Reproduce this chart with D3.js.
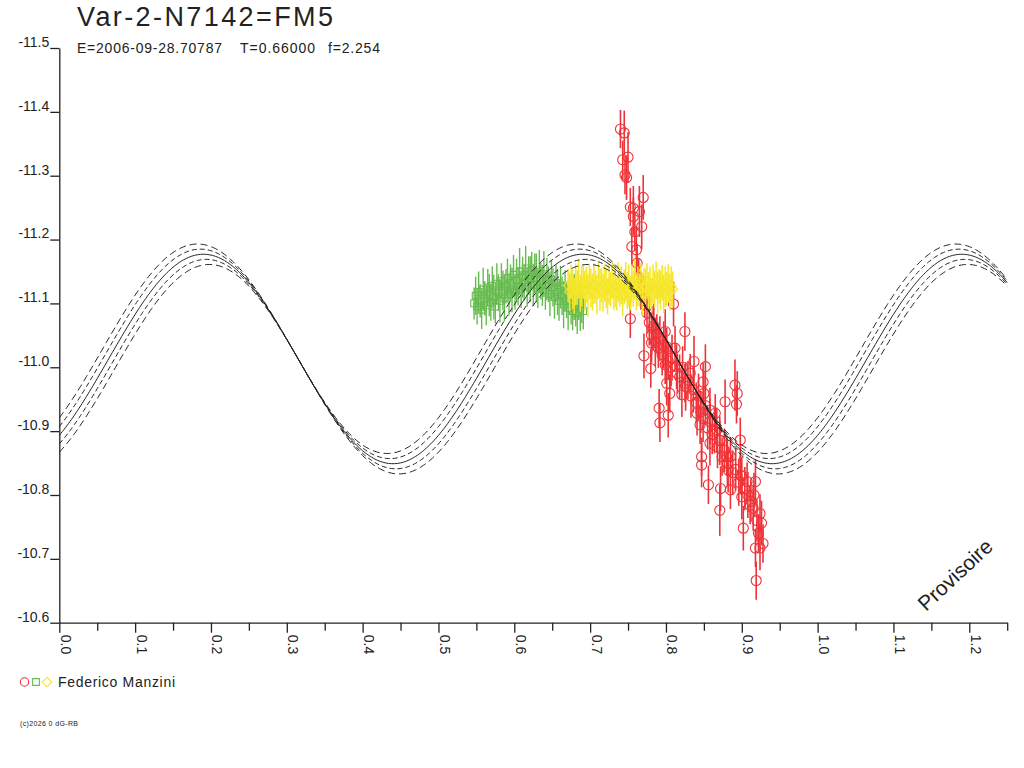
<!DOCTYPE html>
<html lang="en">
<head>
<meta charset="UTF-8" />
<title>Var-2-N7142=FM5</title>
<style>
  body { margin: 0; background: #fff; }
  svg { display: block; font-family: "Liberation Sans", Arial, sans-serif; }
</style>
</head>
<body>
<svg id="chart" width="1024" height="768"></svg>
<script src="https://d3js.org/d3.v7.min.js"></script>
<script>
// axis ticks
const xMajor = [0, 0.1, 0.2, 0.3, 0.4, 0.5, 0.6, 0.7, 0.8, 0.9, 1.0, 1.1, 1.2];
const xMinor = [0.05, 0.15, 0.25, 0.35, 0.45, 0.55, 0.65, 0.75, 0.85, 0.95, 1.05, 1.15, 1.25];
const yTicks = [-11.5, -11.4, -11.3, -11.2, -11.1, -11.0, -10.9, -10.8, -10.7, -10.6];

// fitted light curve (mean, amplitude, period in phase, phase of max)
const modelMean = -11.013;
const modelAmp = 0.164;
const modelPeriod = 0.5;
const modelPeak = 0.19;
const envOffset = [-0.016, -0.008, 0, 0.008, 0.016];
const envDash = ["7,4", "5,3", null, "5,3", "7,4"];

// red circles
const redPhase = [0.740, 0.745, 0.743, 0.750, 0.746, 0.748, 0.770, 0.753, 0.757, 0.765, 0.757, 0.768, 0.759, 0.755, 0.761, 0.762,
  0.764, 0.767, 0.772, 0.810, 0.753, 0.825,
  0.783, 0.788, 0.799, 0.781, 0.771, 0.780, 0.801, 0.812, 0.799, 0.814, 0.837, 0.852, 0.832, 0.801, 0.805, 0.825, 0.821,
  0.849, 0.850, 0.791, 0.803, 0.792, 0.841, 0.845, 0.858, 0.865, 0.878, 0.891, 0.894, 0.893, 0.858, 0.871, 0.867, 0.847,
  0.847, 0.856, 0.872, 0.871, 0.880, 0.882, 0.885, 0.898, 0.898, 0.900, 0.902, 0.907, 0.918, 0.911, 0.915, 0.924, 0.926,
  0.918, 0.924, 0.928, 0.919,
  0.775, 0.778, 0.781, 0.784, 0.786, 0.790, 0.792, 0.795, 0.797, 0.803, 0.806, 0.808, 0.815, 0.818, 0.822, 0.826, 0.829,
  0.833, 0.836, 0.840, 0.843, 0.846, 0.849, 0.852, 0.855, 0.858, 0.861, 0.864, 0.868, 0.871, 0.874, 0.877, 0.881, 0.885,
  0.888, 0.892, 0.896, 0.900, 0.904, 0.908, 0.912, 0.916, 0.920, 0.922];
const redMag = [-11.373, -11.367, -11.325, -11.329, -11.301, -11.297, -11.266, -11.251, -11.249, -11.244, -11.236, -11.220, -11.212, -11.189, -11.184, -11.163,
  -11.140, -11.120, -11.108, -11.099, -11.076, -11.056,
  -11.061, -11.053, -11.056, -11.038, -11.018, -10.998, -11.032, -11.030, -11.004, -11.001, -11.009, -11.001, -10.991, -10.975, -10.959, -10.975, -10.957,
  -10.977, -10.959, -10.936, -10.925, -10.913, -10.928, -10.910, -10.933, -10.928, -10.946, -10.972, -10.959, -10.942, -10.881, -10.886, -10.902, -10.860,
  -10.847, -10.816, -10.810, -10.776, -10.860, -10.839, -10.808, -10.886, -10.831, -10.797, -10.748, -10.821, -10.821, -10.784, -10.779, -10.771, -10.756,
  -10.717, -10.717, -10.724, -10.666,
  -11.085, -11.070, -11.050, -11.065, -11.040, -11.030, -11.045, -11.020, -11.035, -11.010, -11.000, -11.015, -10.990, -10.985, -11.000, -10.970, -10.980,
  -10.955, -10.965, -10.945, -10.955, -10.930, -10.920, -10.940, -10.905, -10.915, -10.895, -10.900, -10.875, -10.885, -10.860, -10.870, -10.850, -10.860,
  -10.835, -10.840, -10.820, -10.830, -10.810, -10.800, -10.790, -10.800, -10.760, -10.740];
const redErr = [0.030, 0.035, 0.030, 0.040, 0.030, 0.035, 0.035, 0.030, 0.035, 0.040, 0.030, 0.035, 0.030, 0.030, 0.035, 0.030,
  0.030, 0.030, 0.030, 0.035, 0.030, 0.030,
  0.035, 0.030, 0.035, 0.030, 0.035, 0.030, 0.030, 0.035, 0.030, 0.035, 0.040, 0.035, 0.030, 0.035, 0.030, 0.030, 0.035,
  0.030, 0.035, 0.030, 0.035, 0.030, 0.035, 0.030, 0.035, 0.030, 0.035, 0.040, 0.035, 0.030, 0.035, 0.030, 0.035, 0.030,
  0.035, 0.030, 0.035, 0.040, 0.030, 0.035, 0.030, 0.035, 0.030, 0.035, 0.035, 0.030, 0.035, 0.030, 0.035, 0.030, 0.035,
  0.030, 0.035, 0.030, 0.030,
  0.032, 0.036, 0.030, 0.034, 0.038, 0.031, 0.035, 0.033, 0.037, 0.030, 0.034, 0.036, 0.031, 0.035, 0.033, 0.038, 0.030,
  0.034, 0.036, 0.031, 0.035, 0.033, 0.037, 0.030, 0.034, 0.036, 0.031, 0.035, 0.033, 0.038, 0.030, 0.034, 0.036, 0.031,
  0.035, 0.033, 0.037, 0.030, 0.034, 0.036, 0.031, 0.035, 0.033, 0.030];

// green squares
const greenPhase = [0.547, 0.549, 0.551, 0.553, 0.555, 0.557, 0.559, 0.561, 0.563, 0.565, 0.567, 0.569, 0.571, 0.573, 0.575, 0.577,
  0.579, 0.581, 0.583, 0.585, 0.587, 0.589, 0.591, 0.593, 0.595, 0.597, 0.599, 0.601, 0.603, 0.605, 0.607, 0.609, 0.611,
  0.613, 0.615, 0.617, 0.619, 0.621, 0.623, 0.625, 0.627, 0.629, 0.631, 0.633, 0.635, 0.637, 0.639, 0.641, 0.643, 0.645,
  0.647, 0.649, 0.651, 0.653, 0.655, 0.657, 0.659, 0.661, 0.663, 0.665, 0.667, 0.669, 0.671, 0.673, 0.675, 0.677, 0.679,
  0.681, 0.683, 0.685, 0.687, 0.689, 0.691];
const greenMag = [-11.100, -11.112, -11.095, -11.118, -11.104, -11.090, -11.122, -11.108, -11.097, -11.125, -11.113, -11.101, -11.128, -11.110, -11.095, -11.131,
  -11.117, -11.104, -11.135, -11.120, -11.108, -11.127, -11.140, -11.114, -11.132, -11.121, -11.145, -11.118, -11.136, -11.127, -11.150, -11.122, -11.141,
  -11.133, -11.155, -11.126, -11.144, -11.138, -11.152, -11.129, -11.147, -11.140, -11.123, -11.150, -11.135, -11.128, -11.146, -11.120, -11.138, -11.130,
  -11.115, -11.137, -11.125, -11.110, -11.132, -11.118, -11.104, -11.126, -11.112, -11.098, -11.120, -11.106, -11.093, -11.114, -11.101, -11.088, -11.110,
  -11.096, -11.085, -11.104, -11.092, -11.100, -11.088];
const greenErr = [0.025, 0.030, 0.028, 0.032, 0.026, 0.030, 0.034, 0.027, 0.031, 0.029, 0.033, 0.028, 0.030, 0.035, 0.027, 0.032,
  0.029, 0.034, 0.028, 0.031, 0.036, 0.027, 0.030, 0.033, 0.029, 0.035, 0.031, 0.028, 0.034, 0.030, 0.037, 0.029, 0.032,
  0.028, 0.035, 0.031, 0.030, 0.036, 0.029, 0.033, 0.031, 0.038, 0.030, 0.034, 0.029, 0.032, 0.036, 0.030, 0.033, 0.028,
  0.035, 0.031, 0.030, 0.034, 0.029, 0.036, 0.031, 0.033, 0.030, 0.037, 0.032, 0.029, 0.035, 0.031, 0.034, 0.030, 0.036,
  0.032, 0.033, 0.030, 0.035, 0.031, 0.029];

// yellow diamonds
const yellowPhase = [0.671, 0.673, 0.675, 0.677, 0.679, 0.681, 0.683, 0.685, 0.687, 0.689, 0.691, 0.693, 0.695, 0.697, 0.699, 0.701,
  0.703, 0.705, 0.707, 0.709, 0.711, 0.713, 0.715, 0.717, 0.719, 0.721, 0.723, 0.725, 0.727, 0.729, 0.731, 0.733, 0.735,
  0.737, 0.739, 0.741, 0.743, 0.745, 0.747, 0.749, 0.751, 0.753, 0.755, 0.757, 0.759, 0.761, 0.763, 0.765, 0.767, 0.769,
  0.771, 0.773, 0.775, 0.777, 0.779, 0.781, 0.783, 0.785, 0.787, 0.789, 0.791, 0.793, 0.795, 0.797, 0.799, 0.801, 0.803,
  0.805, 0.807, 0.809];
const yellowMag = [-11.128, -11.118, -11.134, -11.122, -11.112, -11.130, -11.125, -11.138, -11.116, -11.127, -11.133, -11.120, -11.129, -11.113, -11.135, -11.124,
  -11.118, -11.131, -11.126, -11.114, -11.136, -11.121, -11.128, -11.117, -11.132, -11.124, -11.111, -11.130, -11.122, -11.137, -11.119, -11.127, -11.115,
  -11.133, -11.123, -11.129, -11.112, -11.126, -11.134, -11.120, -11.128, -11.116, -11.131, -11.123, -11.138, -11.118, -11.127, -11.121, -11.133, -11.114,
  -11.128, -11.124, -11.135, -11.119, -11.126, -11.113, -11.130, -11.122, -11.136, -11.117, -11.127, -11.121, -11.132, -11.115, -11.126, -11.123, -11.131,
  -11.118, -11.127, -11.122];
const yellowErr = [0.026, 0.030, 0.027, 0.031, 0.028, 0.033, 0.027, 0.030, 0.029, 0.032, 0.026, 0.031, 0.028, 0.034, 0.027, 0.030,
  0.029, 0.032, 0.026, 0.031, 0.028, 0.033, 0.027, 0.030, 0.029, 0.031, 0.028, 0.032, 0.027, 0.030, 0.029, 0.033, 0.026,
  0.031, 0.028, 0.030, 0.032, 0.027, 0.031, 0.029, 0.033, 0.027, 0.030, 0.028, 0.032, 0.029, 0.031, 0.026, 0.030, 0.033,
  0.027, 0.031, 0.028, 0.030, 0.032, 0.027, 0.031, 0.029, 0.030, 0.033, 0.027, 0.031, 0.028, 0.030, 0.032, 0.027, 0.030,
  0.029, 0.031, 0.028];

const svg = d3.select("#chart");
const x = d3.scaleLinear().domain([0, 1.25]).range([59.3, 1007.2]);
const y = d3.scaleLinear().domain([-11.5, -10.6]).range([48, 622.7]);
const ink = "#222";

// title block
svg.append("text").attr("x", 77).attr("y", 26)
  .attr("font-size", 27).attr("fill", ink)
  .attr("textLength", 256).attr("lengthAdjust", "spacing")
  .text("Var-2-N7142=FM5");
[["E=2006-09-28.70787", 77, 145], ["T=0.66000", 240, 75], ["f=2.254", 328, 52]].forEach(t => {
  svg.append("text").attr("x", t[1]).attr("y", 53)
    .attr("font-size", 14).attr("fill", ink)
    .attr("textLength", t[2]).attr("lengthAdjust", "spacing")
    .text(t[0]);
});

// data: error bar + marker for each point
function drawSeries(phase, mag, err, color, symbol, size, rot, lw) {
  const pts = phase.map((p, i) => ({ p: p, m: mag[i], e: err[i] }));
  const g = svg.append("g");
  const pt = g.selectAll("g").data(pts).enter().append("g");
  pt.append("line")
    .attr("x1", d => x(d.p)).attr("x2", d => x(d.p))
    .attr("y1", d => y(d.m - d.e)).attr("y2", d => y(d.m + d.e))
    .attr("stroke", color).attr("stroke-width", lw);
  pt.append("path")
    .attr("d", d3.symbol(symbol, size))
    .attr("transform", d => `translate(${x(d.p)},${y(d.m)}) rotate(${rot})`)
    .attr("fill", "none").attr("stroke", color).attr("stroke-width", 1.1);
}

const red = "#ee3338", green = "#66bb4f", yellow = "#f5e629";
drawSeries(redPhase, redMag, redErr, red, d3.symbolCircle, 80, 0, 1.6);
drawSeries(greenPhase, greenMag, greenErr, green, d3.symbolSquare, 45, 0, 1.4);
drawSeries(yellowPhase, yellowMag, yellowErr, yellow, d3.symbolSquare, 45, 45, 1.5);

// fitted curve with its envelope
const grid = d3.range(0, 1.2501, 0.002);
envOffset.forEach((d, k) => {
  const shift = d / modelAmp;
  const line = d3.line()
    .x(p => x(p))
    .y(p => y(modelMean + d - modelAmp * Math.cos(2 * Math.PI * (p - modelPeak) / modelPeriod - shift)));
  svg.append("path").datum(grid)
    .attr("d", line)
    .attr("fill", "none").attr("stroke", ink).attr("stroke-width", 1)
    .attr("stroke-dasharray", envDash[k]);
});

// axes
const xAxis = svg.append("g").attr("transform", `translate(0,${y(-10.6)})`)
  .call(d3.axisBottom(x).tickValues(xMajor).tickSize(10).tickSizeOuter(0).tickFormat(d => d.toFixed(1)));
svg.append("g").attr("transform", `translate(0,${y(-10.6)})`)
  .call(d3.axisBottom(x).tickValues(xMinor).tickSize(8).tickSizeOuter(0).tickFormat(""))
  .select(".domain").remove();
xAxis.selectAll("text")
  .attr("y", null).attr("dy", null).attr("x", null)
  .attr("text-anchor", "start")
  .attr("transform", "translate(1,12) rotate(90)");

const yAxis = svg.append("g").attr("transform", `translate(${x(0)},0)`)
  .call(d3.axisLeft(y).tickValues(yTicks).tickSize(9).tickSizeOuter(0).tickFormat(d => d.toFixed(1)));
yAxis.selectAll("text").attr("x", -10).attr("dy", "-0.12em");

svg.selectAll(".domain, .tick line").attr("stroke", ink).attr("stroke-width", 1.3);
svg.selectAll(".tick text").attr("font-size", 14).attr("fill", ink)
  .attr("font-family", "'Liberation Sans', Arial, sans-serif");

// watermark
svg.append("text").attr("transform", "translate(926,612) rotate(-43)")
  .attr("font-size", 21).attr("fill", ink).text("Provisoire");

// legend
const lg = svg.append("g");
lg.append("path").attr("d", d3.symbol(d3.symbolCircle, 55)).attr("transform", "translate(24.5,682)")
  .attr("fill", "none").attr("stroke", red).attr("stroke-width", 1.1);
lg.append("path").attr("d", d3.symbol(d3.symbolSquare, 45)).attr("transform", "translate(36,682)")
  .attr("fill", "none").attr("stroke", green).attr("stroke-width", 1.1);
lg.append("path").attr("d", d3.symbol(d3.symbolSquare, 45)).attr("transform", "translate(47,682) rotate(45)")
  .attr("fill", "none").attr("stroke", yellow).attr("stroke-width", 1.1);
lg.append("text").attr("x", 58).attr("y", 687).attr("font-size", 14).attr("fill", ink)
  .attr("textLength", 117).attr("lengthAdjust", "spacing").text("Federico Manzini");

svg.append("text").attr("x", 20).attr("y", 726).attr("font-size", 7).attr("fill", ink)
  .attr("textLength", 58).attr("lengthAdjust", "spacing").text("(c)2026 0 dG-RB");
</script>
</body>
</html>
